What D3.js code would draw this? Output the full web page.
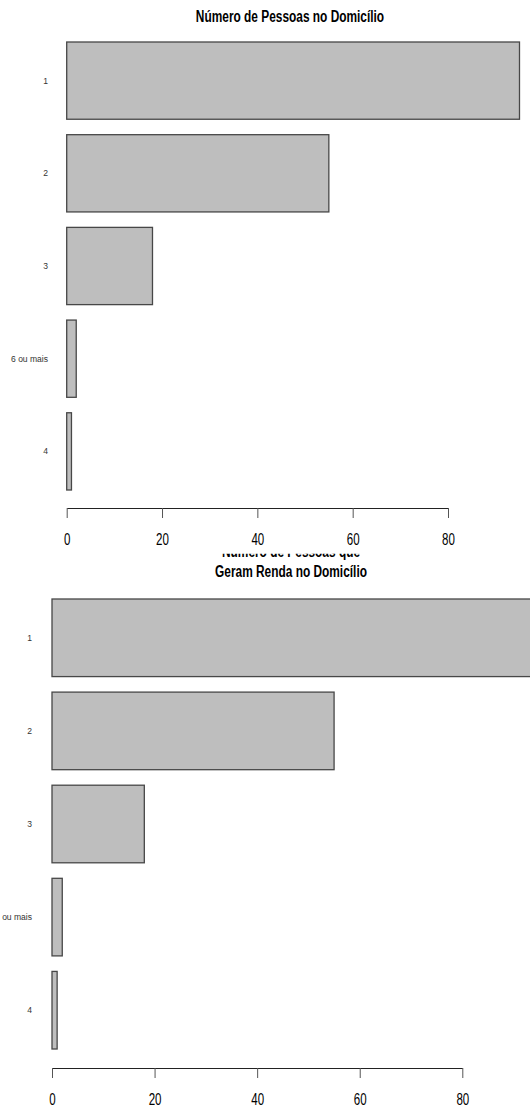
<!DOCTYPE html>
<html>
<head>
<meta charset="utf-8">
<script src="https://cdn.jsdelivr.net/npm/d3@7"></script>
<style>
  html, body { margin: 0; padding: 0; background: #fff; }
  svg { display: block; }
</style>
</head>
<body>
<svg id="chart" width="530" height="1110"></svg>
<script>
// ---- data ----
const categoriesPessoas = ["1", "2", "3", "6 ou mais", "4"];
const valuesPessoas = [95, 55, 18, 2, 1];
const categoriesRenda = ["1", "2", "3", "6 ou mais", "4"];
const valuesRenda = [95, 55, 18, 2, 1];
const tickValues = [0, 20, 40, 60, 80];
const title1 = ["Número de Pessoas no Domicílio"];
const title2 = ["Número de Pessoas que", "Geram Renda no Domicílio"];

const svg = d3.select("#chart");

svg.append("defs").append("clipPath").attr("id", "clipTitle2")
  .append("rect").attr("x", 0).attr("y", 553.8).attr("width", 530).attr("height", 60);

function panel(cfg) {
  const x = d3.scaleLinear().domain([0, 80]).range([cfg.x0, cfg.x80]);
  const y = d3.scaleBand().domain(cfg.cats).range([cfg.yTop, cfg.yBottom])
    .paddingInner(0.2 / 1.2).paddingOuter(0);

  const g = svg.append("g");

  // title
  const tg = g.append("g");
  if (cfg.clip) tg.attr("clip-path", "url(#clipTitle2)");
  cfg.title.forEach((t, i) => {
    tg.append("text")
      .attr("transform", `translate(${cfg.titleX},${cfg.titleY + i * cfg.titleLH}) scale(0.7,1)`)
      .attr("text-anchor", "middle")
      .attr("font-family", "Liberation Sans, Arial, sans-serif")
      .attr("font-weight", "bold")
      .attr("font-size", 17)
      .attr("fill", "#000")
      .text(t);
  });

  // bars
  g.selectAll("rect.bar").data(cfg.cats.map((c, i) => ({c, v: cfg.vals[i]})))
    .enter().append("rect")
    .attr("class", "bar")
    .attr("x", x(0))
    .attr("y", d => y(d.c))
    .attr("width", d => x(d.v) - x(0))
    .attr("height", y.bandwidth())
    .attr("fill", "#bebebe")
    .attr("stroke", "#474747")
    .attr("stroke-width", 1.3);

  // category labels
  const ya = g.append("g")
    .attr("transform", `translate(${cfg.labelX},0)`)
    .call(d3.axisLeft(y).tickSize(0).tickPadding(0));
  ya.select(".domain").remove();
  ya.selectAll("text")
    .attr("font-family", "Liberation Sans, Arial, sans-serif")
    .attr("font-size", 9.5)
    .attr("fill", "#333")
    .attr("transform", "scale(0.9,1)");

  // x axis
  const xa = g.append("g")
    .attr("transform", `translate(0,${cfg.axisY})`)
    .call(d3.axisBottom(x).tickValues(tickValues).tickSize(10).tickSizeOuter(0));
  xa.select(".domain").attr("stroke", "#222").attr("stroke-width", 1);
  xa.selectAll(".tick line").attr("stroke", "#555").attr("stroke-width", 1);
  xa.selectAll("text")
    .attr("y", cfg.tickLabelDy)
    .attr("dy", 0)
    .attr("font-family", "Liberation Sans, Arial, sans-serif")
    .attr("font-size", 17)
    .attr("fill", "#000")
    .attr("transform", "scale(0.68,1)");
}

panel({
  cats: categoriesPessoas, vals: valuesPessoas,
  x0: 66.7, x80: 448, yTop: 42, yBottom: 490,
  axisY: 508, tickLabelDy: 37.5, labelX: 48,
  title: title1, titleX: 290, titleY: 22, titleLH: 20, clip: false
});

panel({
  cats: categoriesRenda, vals: valuesRenda,
  x0: 52, x80: 462.3, yTop: 599, yBottom: 1049,
  axisY: 1068, tickLabelDy: 37.5, labelX: 32,
  title: title2, titleX: 291, titleY: 556.8, titleLH: 20.5, clip: true
});
</script>
</body>
</html>
